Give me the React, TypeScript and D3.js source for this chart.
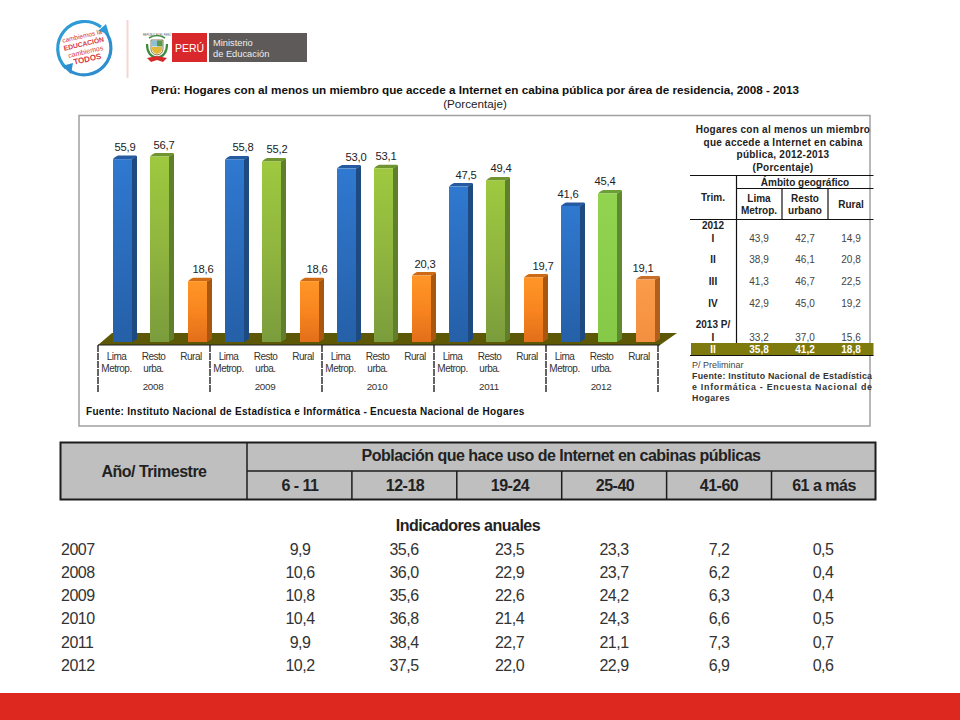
import React from "react";
import * as d3 from "d3";

const years = ["2008", "2009", "2010", "2011", "2012"];
const lima = [55.9, 55.8, 53.0, 47.5, 41.6];
const resto = [56.7, 55.2, 53.1, 49.4, 45.4];
const rural = [18.6, 18.6, 20.3, 19.7, 19.1];
const areaLabels = [["Lima", "Metrop."], ["Resto", "urba."], ["Rural"]];

const trimLabels = ["I", "II", "III", "IV", "I", "II"];
const trimLima = ["43,9", "38,9", "41,3", "42,9", "33,2", "35,8"];
const trimResto = ["42,7", "46,1", "46,7", "45,0", "37,0", "41,2"];
const trimRural = ["14,9", "20,8", "22,5", "19,2", "15,6", "18,8"];
const trimY = [238, 259, 281, 303, 337, 349.5];

const ageGroups = ["6 - 11", "12-18", "19-24", "25-40", "41-60", "61 a más"];
const annualYears = ["2007", "2008", "2009", "2010", "2011", "2012"];
const annualRows = [
  ["9,9", "35,6", "23,5", "23,3", "7,2", "0,5"],
  ["10,6", "36,0", "22,9", "23,7", "6,2", "0,4"],
  ["10,8", "35,6", "22,6", "24,2", "6,3", "0,4"],
  ["10,4", "36,8", "21,4", "24,3", "6,6", "0,5"],
  ["9,9", "38,4", "22,7", "21,1", "7,3", "0,7"],
  ["10,2", "37,5", "22,0", "22,9", "6,9", "0,6"],
];

const FONT = "Liberation Sans, Arial, sans-serif";
const fmt = (v: number) => v.toFixed(1).replace(".", ",");

const yScale = d3.scaleLinear().domain([0, 56.7]).range([342, 156.5]);
const groupX = d3.scaleLinear().domain([0, 5]).range([98, 658]);
const barOffset = [15, 52, 90];
const BAR_W = 19;
const DEPTH = 5;
const labelDx = [
  [12, 14, 15],
  [18, 15, 17],
  [19, 12, 13],
  [17, 15, 19],
  [7, 7, 7],
];

const barColors = [
  { top: "#2f79d0", mid: "#2b6cbc", bottom: "#2560a8", cap: "#2559a0", side: "#1f4a80" },
  { top: "#9ec93f", mid: "#8fb53f", bottom: "#7b9c3c", cap: "#6f9430", side: "#5f7f2a" },
  { top: "#ff9628", mid: "#f8851f", bottom: "#e26f1a", cap: "#cf6a14", side: "#a9560f" },
];
const lastColors = [
  barColors[0],
  { top: "#92d350", mid: "#8ccf4c", bottom: "#86c948", cap: "#6aa035", side: "#5f8a30" },
  { top: "#fb9c4b", mid: "#f79645", bottom: "#f28f40", cap: "#c8702a", side: "#b0601c" },
];

function Bar({ x, value, idx, last, dx }: { x: number; value: number; idx: number; last: boolean; dx: number }) {
  const y = yScale(value);
  const base = yScale(0);
  const c = (last ? lastColors : barColors)[idx];
  const cap = d3.path();
  cap.moveTo(x, y);
  cap.quadraticCurveTo(x + 2, y - 2.5, x + DEPTH, y - 3.5);
  cap.lineTo(x + BAR_W + DEPTH - 1, y - 3.5);
  cap.quadraticCurveTo(x + BAR_W + DEPTH, y - 3, x + BAR_W + DEPTH, y - 2);
  cap.lineTo(x + BAR_W, y);
  cap.closePath();
  const side = d3.path();
  side.moveTo(x + BAR_W, y);
  side.lineTo(x + BAR_W + DEPTH, y - 3);
  side.lineTo(x + BAR_W + DEPTH, base - 3);
  side.lineTo(x + BAR_W, base);
  side.closePath();
  return (
    <g>
      <path d={side.toString()} fill={c.side} />
      <path d={cap.toString()} fill={c.cap} />
      <rect x={x} y={y} width={BAR_W} height={base - y} fill={`url(#bar${last ? "L" : ""}${idx})`} />
      <text x={x + dx} y={y - 8} textAnchor="middle" fontSize={11.2} letterSpacing={-0.2} fill="#222" fontFamily={FONT}>{fmt(value)}</text>
    </g>
  );
}

function Logos() {
  return (
    <g fontFamily={FONT}>
      <path d="M66 68 A27 27 0 0 1 101 27" fill="none" stroke="#2f9bd6" strokeWidth={3.2} />
      <path d="M105 31 A27 27 0 0 1 70 71" fill="none" stroke="#2f8fce" strokeWidth={3.2} />
      <path d="M106 24 L109 34 L98 31 Z" fill="#2f9bd6" />
      <path d="M62 66 L73 63 L71 74 Z" fill="#2f8fce" />
      <g transform="rotate(-13 85 49)" textAnchor="middle" fill="#d83a40">
        <text x={85} y={38} fontSize={6.6}>cambiemos la</text>
        <text x={85} y={46} fontSize={6.8} fontWeight="bold">EDUCACIÓN</text>
        <text x={85} y={54} fontSize={7}>cambiemos</text>
        <text x={85} y={62} fontSize={8} fontWeight="bold">TODOS</text>
      </g>
      <rect x={126.5} y={20} width={2} height={58} fill="#f5d6d6" />
      <text x={157} y={36} textAnchor="middle" fontSize={2.6} fill="#555">REPÚBLICA DEL PERÚ</text>
      <path d="M147 44 Q147 56 157 58 Q167 56 167 44" fill="none" stroke="#3d8b3d" strokeWidth={2.2} />
      <path d="M151 40 H163 V49 Q163 54 157 55 Q151 54 151 49 Z" fill="#fff" stroke="#6e5a2a" strokeWidth={0.8} />
      <rect x={151.5} y={40.5} width={5.5} height={6} fill="#8cc0d4" />
      <rect x={157} y={40.5} width={5.5} height={6} fill="#5a9a4a" />
      <path d="M152 47 H162 V49 Q162 53 157 54 Q152 53 152 49 Z" fill="#e0b93a" />
      <path d="M149 38 Q157 33 165 38" fill="none" stroke="#3d8b3d" strokeWidth={1.6} />
      <path d="M147 58 L157 56 L167 58 L163 62 L157 60 L151 62 Z" fill="#d62b2b" />
      <rect x={172} y={33} width={35} height={29} fill="#d9282b" />
      <text x={189.5} y={52} textAnchor="middle" fontSize={10.5} fill="#fff">PERÚ</text>
      <rect x={209} y={33} width={98} height={29} fill="#5d5a59" />
      <text x={213} y={46} fontSize={9.3} fill="#eee">Ministerio</text>
      <text x={213} y={56.5} fontSize={9.3} fill="#eee">de Educación</text>
    </g>
  );
}

function BarChart() {
  const floor = d3.path();
  floor.moveTo(98, 345);
  floor.lineTo(112, 333);
  floor.lineTo(677, 333);
  floor.lineTo(660, 345);
  floor.closePath();
  return (
    <g fontFamily={FONT}>
      <rect x={79} y={115.5} width={791} height={310.5} fill="#fff" stroke="#a0a0a0" strokeWidth={1.5} />
      <path d={floor.toString()} fill="#5d5806" />
      <line x1={98} x2={660} y1={345} y2={345} stroke="#222" strokeWidth={1.2} />
      {d3.range(6).map((i) => (
        <line key={i} x1={groupX(i)} x2={groupX(i)} y1={345} y2={392.5} stroke="#111" strokeWidth={1.3} strokeDasharray="7 1" />
      ))}
      {years.map((yr, i) => {
        const x0 = groupX(i);
        return (
          <g key={yr}>
            {[lima[i], resto[i], rural[i]].map((v, k) => (
              <Bar key={k} x={x0 + barOffset[k]} value={v} idx={k} last={i === 4} dx={labelDx[i][k]} />
            ))}
            {areaLabels.map((lines, k) =>
              lines.map((t, j) => (
                <text key={k + t} x={x0 + [18.5, 55.5, 93][k]} y={359.5 + j * 12.5} textAnchor="middle" fontSize={10} letterSpacing={-0.5} fill="#333">{t}</text>
              ))
            )}
            <text x={x0 + 55} y={389.5} textAnchor="middle" fontSize={9.8} letterSpacing={-0.3} fill="#333">{yr}</text>
          </g>
        );
      })}
      <text x={86} y={414.5} fontSize={10} fontWeight="bold" letterSpacing={0.3} fill="#111">Fuente: Instituto Nacional de Estadística e Informática - Encuesta Nacional de Hogares</text>
    </g>
  );
}

function SideTable() {
  const cols = [759, 805, 851];
  const titles = ["Hogares con al menos un miembro", "que accede a Internet en cabina", "pública, 2012-2013", "(Porcentaje)"];
  const titleY = [132.5, 145.5, 158, 171];
  const L = "#111";
  return (
    <g fontFamily={FONT} fill="#222">
      {titles.map((t, i) => (
        <text key={t} x={783} y={titleY[i]} textAnchor="middle" fontSize={10} fontWeight="bold" letterSpacing={0.25}>{t}</text>
      ))}
      <line x1={690} x2={873.5} y1={175.5} y2={175.5} stroke={L} strokeWidth={1.2} />
      <line x1={736} x2={873.5} y1={188.5} y2={188.5} stroke={L} strokeWidth={1.2} />
      <line x1={690} x2={873.5} y1={219.5} y2={219.5} stroke={L} strokeWidth={1.2} />
      <line x1={736.5} x2={736.5} y1={175} y2={356} stroke={L} strokeWidth={1.2} />
      <line x1={782} x2={782} y1={188} y2={219} stroke={L} strokeWidth={1.2} />
      <line x1={828} x2={828} y1={188} y2={219} stroke={L} strokeWidth={1.2} />
      <rect x={691} y={343} width={182.5} height={12.5} fill="#7f7a0e" />
      <line x1={690} x2={873.5} y1={355.5} y2={355.5} stroke={L} />
      <g fontWeight="bold" fontSize={10} textAnchor="middle">
        <text x={805} y={186}>Ámbito geográfico</text>
        <text x={713} y={201}>Trim.</text>
        <text x={759} y={202}>Lima</text>
        <text x={759} y={214}>Metrop.</text>
        <text x={805} y={202}>Resto</text>
        <text x={805} y={214}>urbano</text>
        <text x={851} y={208}>Rural</text>
        <text x={713} y={229}>2012</text>
        <text x={713} y={328}>2013 P/</text>
      </g>
      {trimLabels.map((t, i) => {
        const last = i === 5;
        const f = last ? "#fff" : "#444";
        return (
          <g key={i} fontSize={10} textAnchor="middle" fill={f} fontWeight={last ? "bold" : "normal"}>
            <text x={713} y={trimY[i] + 3.5} fontWeight="bold" fill={last ? "#fff" : "#222"}>{t}</text>
            <text x={cols[0]} y={trimY[i] + 3.5}>{trimLima[i]}</text>
            <text x={cols[1]} y={trimY[i] + 3.5}>{trimResto[i]}</text>
            <text x={cols[2]} y={trimY[i] + 3.5}>{trimRural[i]}</text>
          </g>
        );
      })}
      <text x={692} y={367.5} fontSize={9} fill="#444">P/ Preliminar</text>
      <g fontSize={8.8} fontWeight="bold" fill="#333">
        <text x={692} y={379} textLength={180}>Fuente: Instituto Nacional de Estadística</text>
        <text x={692} y={390} textLength={180}>e Informática -  Encuesta Nacional de</text>
        <text x={692} y={401} letterSpacing={0.4}>Hogares</text>
      </g>
    </g>
  );
}

function LowerTable() {
  const colX = d3.scaleLinear().domain([0, 5]).range([247, 771.5]);
  const centers = [300, 404, 509.5, 614, 719, 823];
  const rowY = d3.scaleLinear().domain([0, 5]).range([554.5, 671]);
  const headerCenters = [300, 405, 510, 615, 719, 824];
  const bold = { fontSize: 16, fontWeight: "bold", fill: "#222", letterSpacing: -0.5, textAnchor: "middle" } as const;
  return (
    <g fontFamily={FONT}>
      <rect x={60.5} y={442.5} width={815} height={57} fill="#bfbfbf" stroke="#1c1c1c" strokeWidth={2} />
      <line x1={247} x2={247} y1={442} y2={500} stroke="#1c1c1c" strokeWidth={1.5} />
      <line x1={247} x2={876} y1={471} y2={471} stroke="#1c1c1c" strokeWidth={1.5} />
      {d3.range(1, 6).map((i) => (
        <line key={i} x1={colX(i)} x2={colX(i)} y1={471} y2={500} stroke="#1c1c1c" strokeWidth={1.5} />
      ))}
      <text x={154} y={477} {...bold}>Año/ Trimestre</text>
      <text x={561} y={461} {...bold}>Población que hace uso de Internet en cabinas públicas</text>
      {ageGroups.map((g, i) => (
        <text key={g} x={headerCenters[i]} y={491} {...bold}>{g}</text>
      ))}
      <text x={468} y={531} {...bold}>Indicadores anuales</text>
      {annualYears.map((yr, r) => (
        <g key={yr} fontSize={16} letterSpacing={-0.5} fill="#333">
          <text x={61} y={rowY(r)}>{yr}</text>
          {annualRows[r].map((v, c) => (
            <text key={c} x={centers[c]} y={rowY(r)} textAnchor="middle">{v}</text>
          ))}
        </g>
      ))}
    </g>
  );
}

export default function App() {
  const all = [...barColors.map((c, i) => ({ id: `bar${i}`, c })), ...lastColors.map((c, i) => ({ id: `barL${i}`, c }))];
  return (
    <svg width={960} height={720} viewBox="0 0 960 720" style={{ position: "absolute", left: 0, top: 0, background: "#fff" }}>
      <defs>
        {all.map(({ id, c }) => (
          <linearGradient key={id} id={id} x1="0" x2="0" y1="0" y2="1">
            <stop offset="0" stopColor={c.top} />
            <stop offset="0.5" stopColor={c.mid} />
            <stop offset="1" stopColor={c.bottom} />
          </linearGradient>
        ))}
      </defs>
      <Logos />
      <text x={475} y={94} textAnchor="middle" fontSize={11.7} fontWeight="bold" fill="#111" fontFamily={FONT}>Perú: Hogares con al menos un miembro que accede a Internet en cabina pública por área de residencia, 2008 - 2013</text>
      <text x={475} y={108} textAnchor="middle" fontSize={11.7} fill="#222" fontFamily={FONT}>(Porcentaje)</text>
      <BarChart />
      <SideTable />
      <LowerTable />
      <rect x={0} y={693} width={960} height={27} fill="#dc281e" />
    </svg>
  );
}
